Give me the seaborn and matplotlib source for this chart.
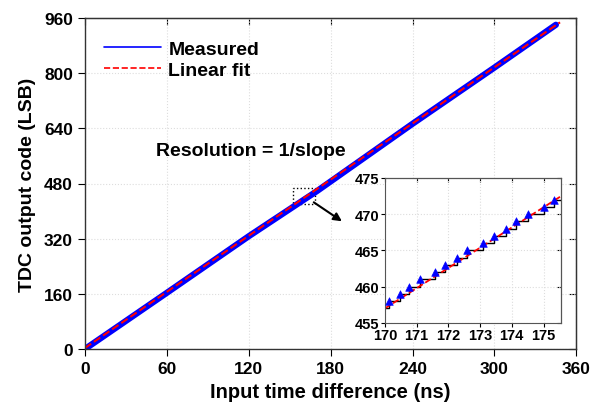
import matplotlib
matplotlib.use("Agg")
import matplotlib.pyplot as plt
import seaborn as sns
from matplotlib.patches import Rectangle

# main plot data
time_ns = [0, 60, 120, 170, 240, 300, 345]
code_lsb = [0, 163, 327, 458, 653, 816, 940]
fit_x = [0, 348]
fit_y = [3, 947]

# zoomed region data
zoom_t = [170.0, 170.14, 170.47, 170.75, 171.11, 171.59, 171.89, 172.27,
          172.59, 173.10, 173.44, 173.83, 174.14, 174.51, 175.0, 175.34, 175.6]
zoom_code = [457, 458, 459, 460, 461, 462, 463, 464,
             465, 466, 467, 468, 469, 470, 471, 472, 472]
zoom_fit_x = [170, 175.6]
zoom_fit_y = [457, 472.6]

sns.set_style("ticks")
plt.rcParams['font.family'] = ['Liberation Sans', 'DejaVu Sans']
plt.rcParams['font.weight'] = 'bold'
for k in ['text.color', 'axes.labelcolor', 'xtick.color', 'ytick.color']:
    plt.rcParams[k] = 'black'

fig = plt.figure(figsize=(5.93, 4.10), dpi=100)
ax = fig.add_axes([0.143, 0.146, 0.829, 0.808])

sns.lineplot(x=time_ns, y=code_lsb, ax=ax, color='#0000ff', lw=4.5, label='Measured')
sns.lineplot(x=fit_x, y=fit_y, ax=ax, color='#ff0000', lw=1.5, linestyle='--', label='Linear fit')

ax.set_xlim(0, 360)
ax.set_ylim(0, 960)
ax.set_xticks(range(0, 361, 60))
ax.set_yticks(range(0, 961, 160))
ax.grid(True, color='#dddddd', linestyle=':', lw=0.8)
ax.tick_params(direction='out', length=5, labelsize=12.5)
for lab in ax.get_xticklabels() + ax.get_yticklabels():
    lab.set_fontweight('bold')
for s in ax.spines.values():
    s.set_color('#333333')
    s.set_linewidth(1.0)

# mirrored inward ticks on top/right
top = ax.secondary_xaxis('top')
top.set_xticks(range(0, 361, 60))
top.tick_params(direction='in', length=5, labeltop=False)
right = ax.secondary_yaxis('right')
right.set_yticks(range(0, 961, 160))
right.tick_params(direction='in', length=5, labelright=False)

ax.set_xlabel('Input time difference (ns)', fontsize=14.5, fontweight='bold', labelpad=4)
ax.set_ylabel('TDC output code (LSB)', fontsize=14, fontweight='bold', labelpad=6)

leg = ax.legend(loc='upper left', frameon=False, fontsize=14, handlelength=2.9,
                handletextpad=0.4, borderaxespad=0.6, labelspacing=0.15,
                bbox_to_anchor=(0.0, 0.99))
for h in leg.get_lines():
    h.set_linewidth(1.2)

ax.text(52, 575, 'Resolution = 1/slope', fontsize=14, fontweight='bold', va='center')

ax.add_patch(Rectangle((152.5, 421), 16, 46, fill=False, ec='black', ls=':', lw=1))
ax.annotate('', xy=(190, 366), xytext=(166, 430),
            arrowprops=dict(arrowstyle='-|>', color='black', lw=1.5, mutation_scale=12))

# inset
ins = fig.add_axes([0.649, 0.210, 0.297, 0.354])
sns.lineplot(x=zoom_t, y=zoom_code, ax=ins, color='black', lw=1, drawstyle='steps-post')
sns.lineplot(x=zoom_fit_x, y=zoom_fit_y, ax=ins, color='#ff0000', lw=1.3, linestyle='--')
sns.scatterplot(x=zoom_t[1:-1], y=zoom_code[1:-1], ax=ins, color='#0000ff', marker='^',
                s=30, edgecolor='#0000ff', zorder=5)
ins.set_xlim(170, 175.55)
ins.set_ylim(455, 475)
ins.set_xticks(range(170, 176))
ins.set_yticks(range(455, 476, 5))
ins.grid(True, color='#dddddd', linestyle=':', lw=0.8)
ins.tick_params(direction='out', length=3, labelsize=10.5, pad=1)
for lab in ins.get_xticklabels() + ins.get_yticklabels():
    lab.set_fontweight('bold')
for s in ins.spines.values():
    s.set_color('#555555')
    s.set_linewidth(0.8)
itop = ins.secondary_xaxis('top')
itop.set_xticks(range(170, 176))
itop.tick_params(direction='in', length=3, labeltop=False)
iright = ins.secondary_yaxis('right')
iright.set_yticks(range(455, 476, 5))
iright.tick_params(direction='in', length=3, labelright=False)

fig.savefig('out.png', dpi=100)
